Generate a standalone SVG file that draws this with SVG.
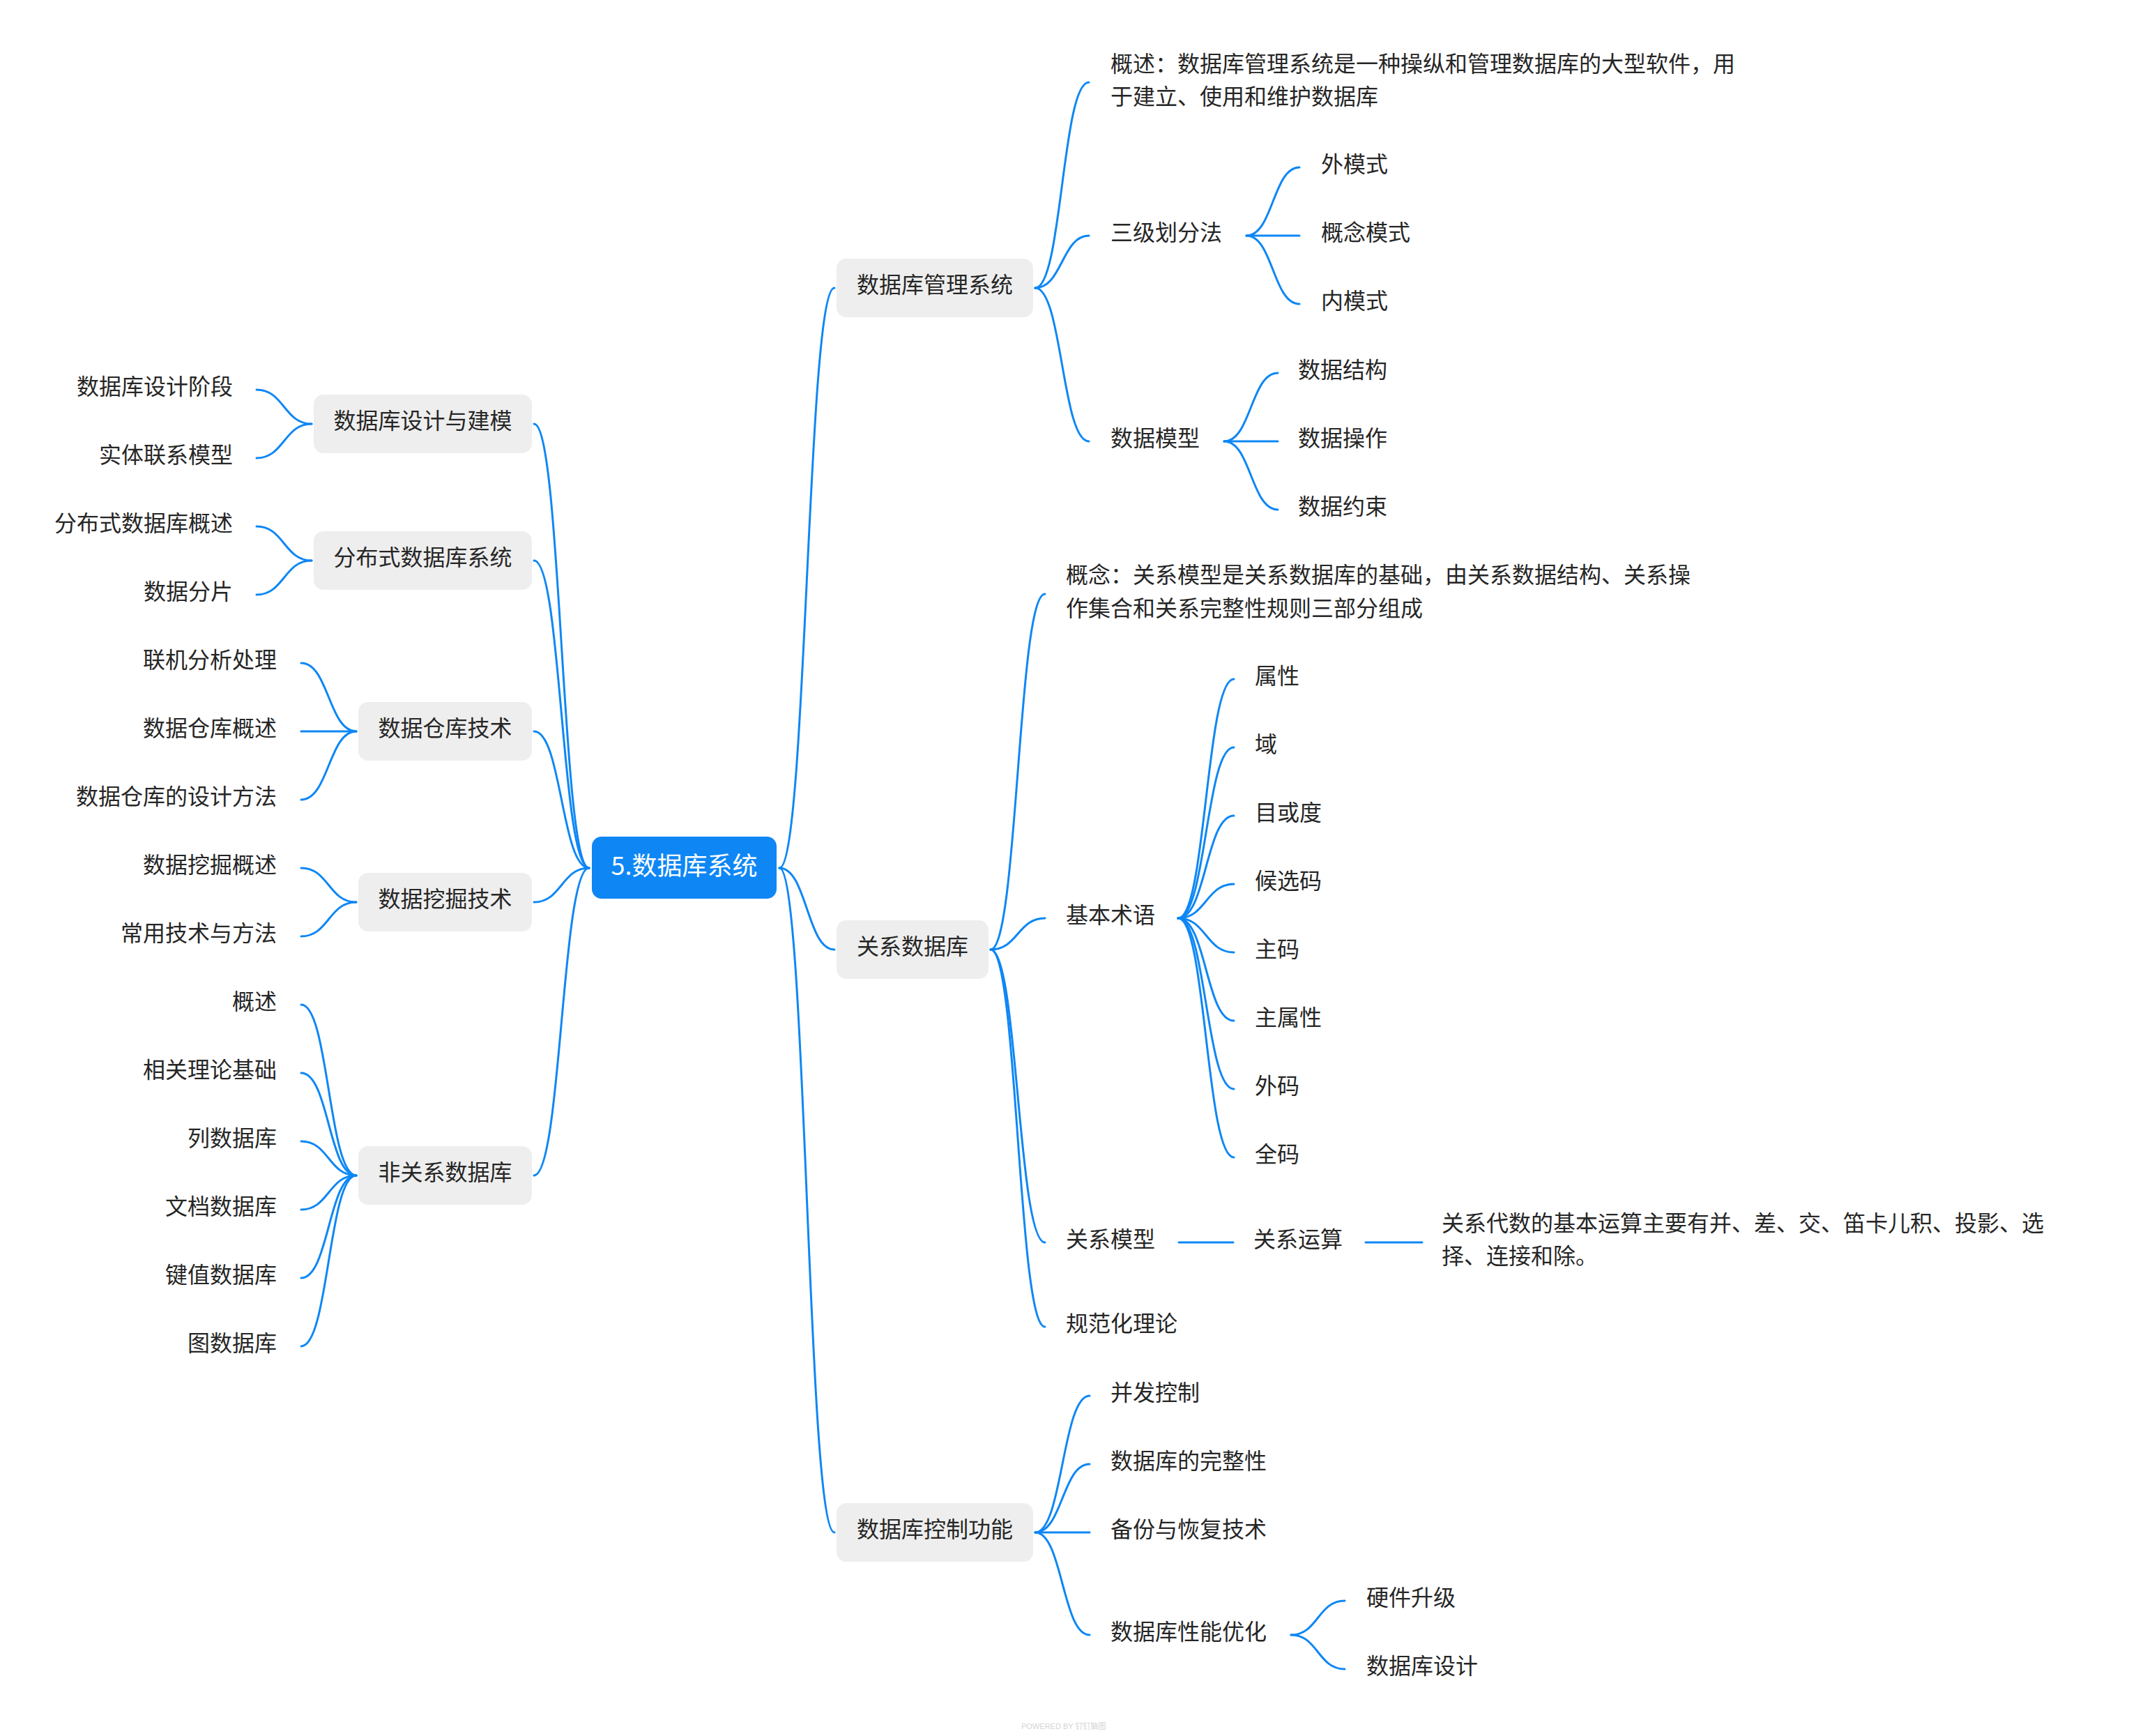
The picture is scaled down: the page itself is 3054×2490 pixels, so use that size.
<svg xmlns="http://www.w3.org/2000/svg" width="3054" height="2490" viewBox="0 0 3054 2490">
<style>
.bg{fill:#ffffff}
.box{fill:#eeeeee}
.root{fill:#0e87f5}
.t{font-family:"Noto Sans CJK SC","Noto Sans",sans-serif;font-size:32px;fill:#262626}
.e{text-anchor:end}
.m{text-anchor:middle}
.rt{font-family:"Noto Sans CJK SC","Noto Sans",sans-serif;font-size:36px;fill:#ffffff;text-anchor:middle}
.link{fill:none;stroke:#0e87f5;stroke-width:3;stroke-linecap:round}
.wm{font-family:"Liberation Sans","Noto Sans CJK SC",sans-serif;font-size:11px;fill:#d4d4d4}
</style>
<rect class="bg" x="0" y="0" width="3054" height="2490"/>
<g id="connectors">
<path class="link" d="M1118 1245 C1157.5 1245 1157.5 413 1197 413"/>
<path class="link" d="M1118 1245 C1157.5 1245 1157.5 1362 1197 1362"/>
<path class="link" d="M1118 1245 C1157.5 1245 1157.5 2198 1197 2198"/>
<path class="link" d="M845 1245 C805.5 1245 805.5 608 766 608"/>
<path class="link" d="M845 1245 C805.5 1245 805.5 804 766 804"/>
<path class="link" d="M845 1245 C805.5 1245 805.5 1049 766 1049"/>
<path class="link" d="M845 1245 C805.5 1245 805.5 1294 766 1294"/>
<path class="link" d="M845 1245 C805.5 1245 805.5 1686 766 1686"/>
<path class="link" d="M447 608 C407.5 608 407.5 559 368 559"/>
<path class="link" d="M447 608 C407.5 608 407.5 657 368 657"/>
<path class="link" d="M447 804 C407.5 804 407.5 755 368 755"/>
<path class="link" d="M447 804 C407.5 804 407.5 853 368 853"/>
<path class="link" d="M511 1049 C471.5 1049 471.5 951 432 951"/>
<path class="link" d="M511 1049 L432 1049"/>
<path class="link" d="M511 1049 C471.5 1049 471.5 1147 432 1147"/>
<path class="link" d="M511 1294 C471.5 1294 471.5 1245 432 1245"/>
<path class="link" d="M511 1294 C471.5 1294 471.5 1343 432 1343"/>
<path class="link" d="M511 1686 C471.5 1686 471.5 1441 432 1441"/>
<path class="link" d="M511 1686 C471.5 1686 471.5 1539 432 1539"/>
<path class="link" d="M511 1686 C471.5 1686 471.5 1637 432 1637"/>
<path class="link" d="M511 1686 C471.5 1686 471.5 1735 432 1735"/>
<path class="link" d="M511 1686 C471.5 1686 471.5 1833 432 1833"/>
<path class="link" d="M511 1686 C471.5 1686 471.5 1931 432 1931"/>
<path class="link" d="M1485 413 C1523.5 413 1523.5 118 1562 118"/>
<path class="link" d="M1485 413 C1523.5 413 1523.5 338 1562 338"/>
<path class="link" d="M1485 413 C1523.5 413 1523.5 633 1562 633"/>
<path class="link" d="M1788 338 C1826 338 1826 240 1864 240"/>
<path class="link" d="M1788 338 L1864 338"/>
<path class="link" d="M1788 338 C1826 338 1826 436 1864 436"/>
<path class="link" d="M1756 633 C1794.5 633 1794.5 535 1833 535"/>
<path class="link" d="M1756 633 L1833 633"/>
<path class="link" d="M1756 633 C1794.5 633 1794.5 731 1833 731"/>
<path class="link" d="M1421 1362 C1460 1362 1460 852 1499 852"/>
<path class="link" d="M1421 1362 C1460 1362 1460 1317 1499 1317"/>
<path class="link" d="M1421 1362 C1460 1362 1460 1782 1499 1782"/>
<path class="link" d="M1421 1362 C1460 1362 1460 1903 1499 1903"/>
<path class="link" d="M1690 1317 C1730 1317 1730 974 1770 974"/>
<path class="link" d="M1690 1317 C1730 1317 1730 1072 1770 1072"/>
<path class="link" d="M1690 1317 C1730 1317 1730 1170 1770 1170"/>
<path class="link" d="M1690 1317 C1730 1317 1730 1268 1770 1268"/>
<path class="link" d="M1690 1317 C1730 1317 1730 1366 1770 1366"/>
<path class="link" d="M1690 1317 C1730 1317 1730 1464 1770 1464"/>
<path class="link" d="M1690 1317 C1730 1317 1730 1562 1770 1562"/>
<path class="link" d="M1690 1317 C1730 1317 1730 1660 1770 1660"/>
<path class="link" d="M1691 1782 L1769 1782"/>
<path class="link" d="M1959 1782 L2040 1782"/>
<path class="link" d="M1485 2198 C1524 2198 1524 2002 1563 2002"/>
<path class="link" d="M1485 2198 C1524 2198 1524 2100 1563 2100"/>
<path class="link" d="M1485 2198 L1563 2198"/>
<path class="link" d="M1485 2198 C1524 2198 1524 2345 1563 2345"/>
<path class="link" d="M1852 2345 C1890.5 2345 1890.5 2296 1929 2296"/>
<path class="link" d="M1852 2345 C1890.5 2345 1890.5 2394 1929 2394"/>
</g>
<g id="root">
<rect class="root" x="849" y="1200" width="265" height="89" rx="14"/>
<text class="rt" x="981.5" y="1255">5.数据库系统</text>
</g>
<g id="n-dbms">
<rect class="box" x="1200" y="371" width="282" height="84" rx="14"/>
<text class="t m" x="1341" y="420">数据库管理系统</text>
</g>
<g id="n-dbms-overview"><text class="t" x="1593" y="103">概述：数据库管理系统是一种操纵和管理数据库的大型软件，用</text><text class="t" x="1593" y="150">于建立、使用和维护数据库</text></g>
<g id="n-three-level"><text class="t" x="1593" y="345">三级划分法</text></g>
<g id="n-ext-schema"><text class="t" x="1895" y="247">外模式</text></g>
<g id="n-con-schema"><text class="t" x="1895" y="345">概念模式</text></g>
<g id="n-int-schema"><text class="t" x="1895" y="443">内模式</text></g>
<g id="n-data-model"><text class="t" x="1593" y="640">数据模型</text></g>
<g id="n-data-struct"><text class="t" x="1862" y="542">数据结构</text></g>
<g id="n-data-op"><text class="t" x="1862" y="640">数据操作</text></g>
<g id="n-data-cons"><text class="t" x="1862" y="738">数据约束</text></g>
<g id="n-rdb">
<rect class="box" x="1200" y="1320" width="218" height="84" rx="14"/>
<text class="t m" x="1309" y="1369">关系数据库</text>
</g>
<g id="n-rdb-concept"><text class="t" x="1529" y="836">概念：关系模型是关系数据库的基础，由关系数据结构、关系操</text><text class="t" x="1529" y="884">作集合和关系完整性规则三部分组成</text></g>
<g id="n-terms"><text class="t" x="1529" y="1324">基本术语</text></g>
<g id="n-t1"><text class="t" x="1800" y="981">属性</text></g>
<g id="n-t2"><text class="t" x="1800" y="1079">域</text></g>
<g id="n-t3"><text class="t" x="1800" y="1177">目或度</text></g>
<g id="n-t4"><text class="t" x="1800" y="1275">候选码</text></g>
<g id="n-t5"><text class="t" x="1800" y="1373">主码</text></g>
<g id="n-t6"><text class="t" x="1800" y="1471">主属性</text></g>
<g id="n-t7"><text class="t" x="1800" y="1569">外码</text></g>
<g id="n-t8"><text class="t" x="1800" y="1667">全码</text></g>
<g id="n-rel-model"><text class="t" x="1529" y="1789">关系模型</text></g>
<g id="n-rel-op"><text class="t" x="1798" y="1789">关系运算</text></g>
<g id="n-rel-op-desc"><text class="t" x="2068" y="1766">关系代数的基本运算主要有并、差、交、笛卡儿积、投影、选</text><text class="t" x="2068" y="1813">择、连接和除。</text></g>
<g id="n-normal"><text class="t" x="1529" y="1910">规范化理论</text></g>
<g id="n-ctrl">
<rect class="box" x="1200" y="2156" width="282" height="84" rx="14"/>
<text class="t m" x="1341" y="2205">数据库控制功能</text>
</g>
<g id="n-c1"><text class="t" x="1593" y="2009">并发控制</text></g>
<g id="n-c2"><text class="t" x="1593" y="2107">数据库的完整性</text></g>
<g id="n-c3"><text class="t" x="1593" y="2205">备份与恢复技术</text></g>
<g id="n-c4"><text class="t" x="1593" y="2352">数据库性能优化</text></g>
<g id="n-c41"><text class="t" x="1960" y="2303">硬件升级</text></g>
<g id="n-c42"><text class="t" x="1960" y="2401">数据库设计</text></g>
<g id="n-design">
<rect class="box" x="450" y="566" width="313" height="84" rx="14"/>
<text class="t m" x="606.5" y="615">数据库设计与建模</text>
</g>
<g id="n-d1"><text class="t e" x="334" y="566">数据库设计阶段</text></g>
<g id="n-d2"><text class="t e" x="334" y="664">实体联系模型</text></g>
<g id="n-ddb">
<rect class="box" x="450" y="762" width="313" height="84" rx="14"/>
<text class="t m" x="606.5" y="811">分布式数据库系统</text>
</g>
<g id="n-b1"><text class="t e" x="334" y="762">分布式数据库概述</text></g>
<g id="n-b2"><text class="t e" x="334" y="860">数据分片</text></g>
<g id="n-dw">
<rect class="box" x="514" y="1007" width="249" height="84" rx="14"/>
<text class="t m" x="638.5" y="1056">数据仓库技术</text>
</g>
<g id="n-w1"><text class="t e" x="397" y="958">联机分析处理</text></g>
<g id="n-w2"><text class="t e" x="397" y="1056">数据仓库概述</text></g>
<g id="n-w3"><text class="t e" x="397" y="1154">数据仓库的设计方法</text></g>
<g id="n-dm">
<rect class="box" x="514" y="1252" width="249" height="84" rx="14"/>
<text class="t m" x="638.5" y="1301">数据挖掘技术</text>
</g>
<g id="n-m1"><text class="t e" x="397" y="1252">数据挖掘概述</text></g>
<g id="n-m2"><text class="t e" x="397" y="1350">常用技术与方法</text></g>
<g id="n-nosql">
<rect class="box" x="514" y="1644" width="249" height="84" rx="14"/>
<text class="t m" x="638.5" y="1693">非关系数据库</text>
</g>
<g id="n-n1"><text class="t e" x="397" y="1448">概述</text></g>
<g id="n-n2"><text class="t e" x="397" y="1546">相关理论基础</text></g>
<g id="n-n3"><text class="t e" x="397" y="1644">列数据库</text></g>
<g id="n-n4"><text class="t e" x="397" y="1742">文档数据库</text></g>
<g id="n-n5"><text class="t e" x="397" y="1840">键值数据库</text></g>
<g id="n-n6"><text class="t e" x="397" y="1938">图数据库</text></g>
<text class="wm" x="1465" y="2480">POWERED BY 钉钉脑图</text>
</svg>
